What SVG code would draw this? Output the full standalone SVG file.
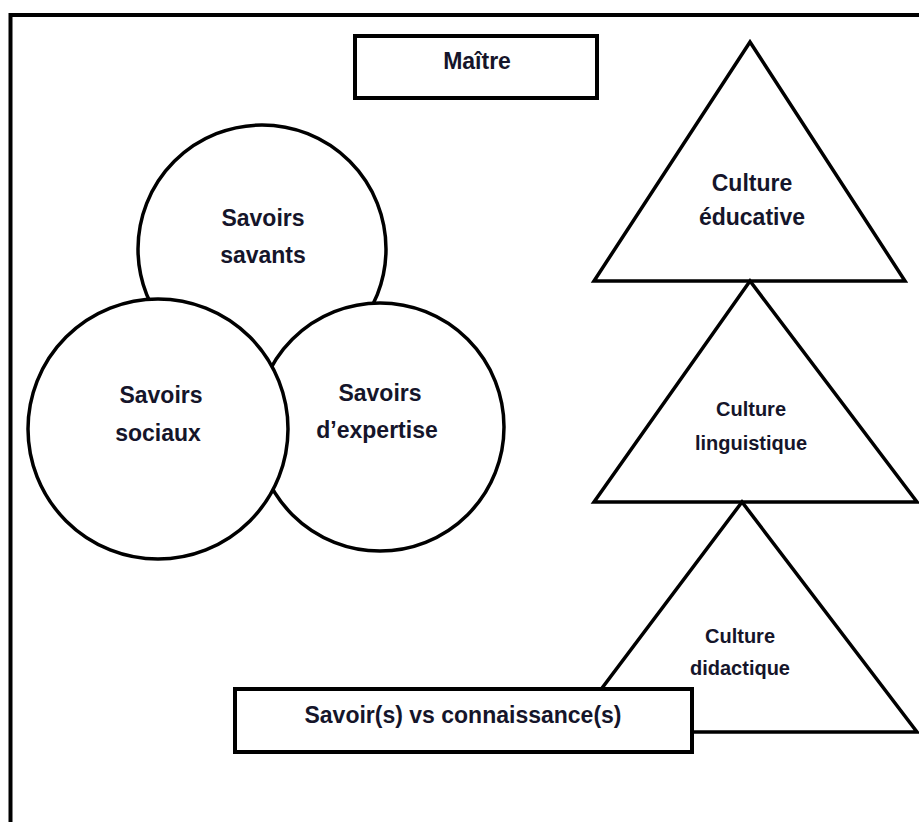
<svg xmlns="http://www.w3.org/2000/svg" width="919" height="822" viewBox="0 0 919 822">
<style>
.sh{fill:#fff;stroke:#000;stroke-width:3.5}
.bx{fill:#fff;stroke:#000;stroke-width:4}
.t{font-family:"Liberation Sans",Arial,sans-serif;font-weight:bold;fill:#15152a;text-anchor:middle}
.l{font-size:23px}
.s{font-size:20px}
</style>
<rect width="919" height="822" fill="#fff"/>
<path d="M10.5,822 V15 H919" fill="none" stroke="#000" stroke-width="4"/>
<g id="savants"><circle class="sh" cx="262" cy="249" r="124"/><text class="t l" x="263" y="226">Savoirs</text><text class="t l" x="263" y="263">savants</text></g>
<g id="expertise"><circle class="sh" cx="380" cy="427" r="124"/><text class="t l" x="380" y="401">Savoirs</text><text class="t l" x="377" y="438">d’expertise</text></g>
<g id="sociaux"><circle class="sh" cx="158" cy="429" r="130"/><text class="t l" x="161" y="403">Savoirs</text><text class="t l" x="158" y="441">sociaux</text></g>
<g id="maitre"><rect class="bx" x="355" y="36" width="242" height="62"/><text class="t l" x="477" y="69">Maître</text></g>
<g id="educative"><polygon class="sh" points="750,42 594,281 905,281"/><text class="t l" x="752" y="191">Culture</text><text class="t l" x="752" y="225">éducative</text></g>
<g id="linguistique"><polygon class="sh" points="750,281 594,502 917,502"/><text class="t s" x="751" y="416">Culture</text><text class="t s" x="751" y="450">linguistique</text></g>
<g id="didactique"><polygon class="sh" points="742,502 569,732 917,732"/><text class="t s" x="740" y="643">Culture</text><text class="t s" x="740" y="675">didactique</text></g>
<g id="savoirs-connaissances"><rect class="bx" x="235" y="689" width="457" height="63"/><text class="t l" x="463" y="723">Savoir(s) vs connaissance(s)</text></g>
<g id="connectors"/>
</svg>
